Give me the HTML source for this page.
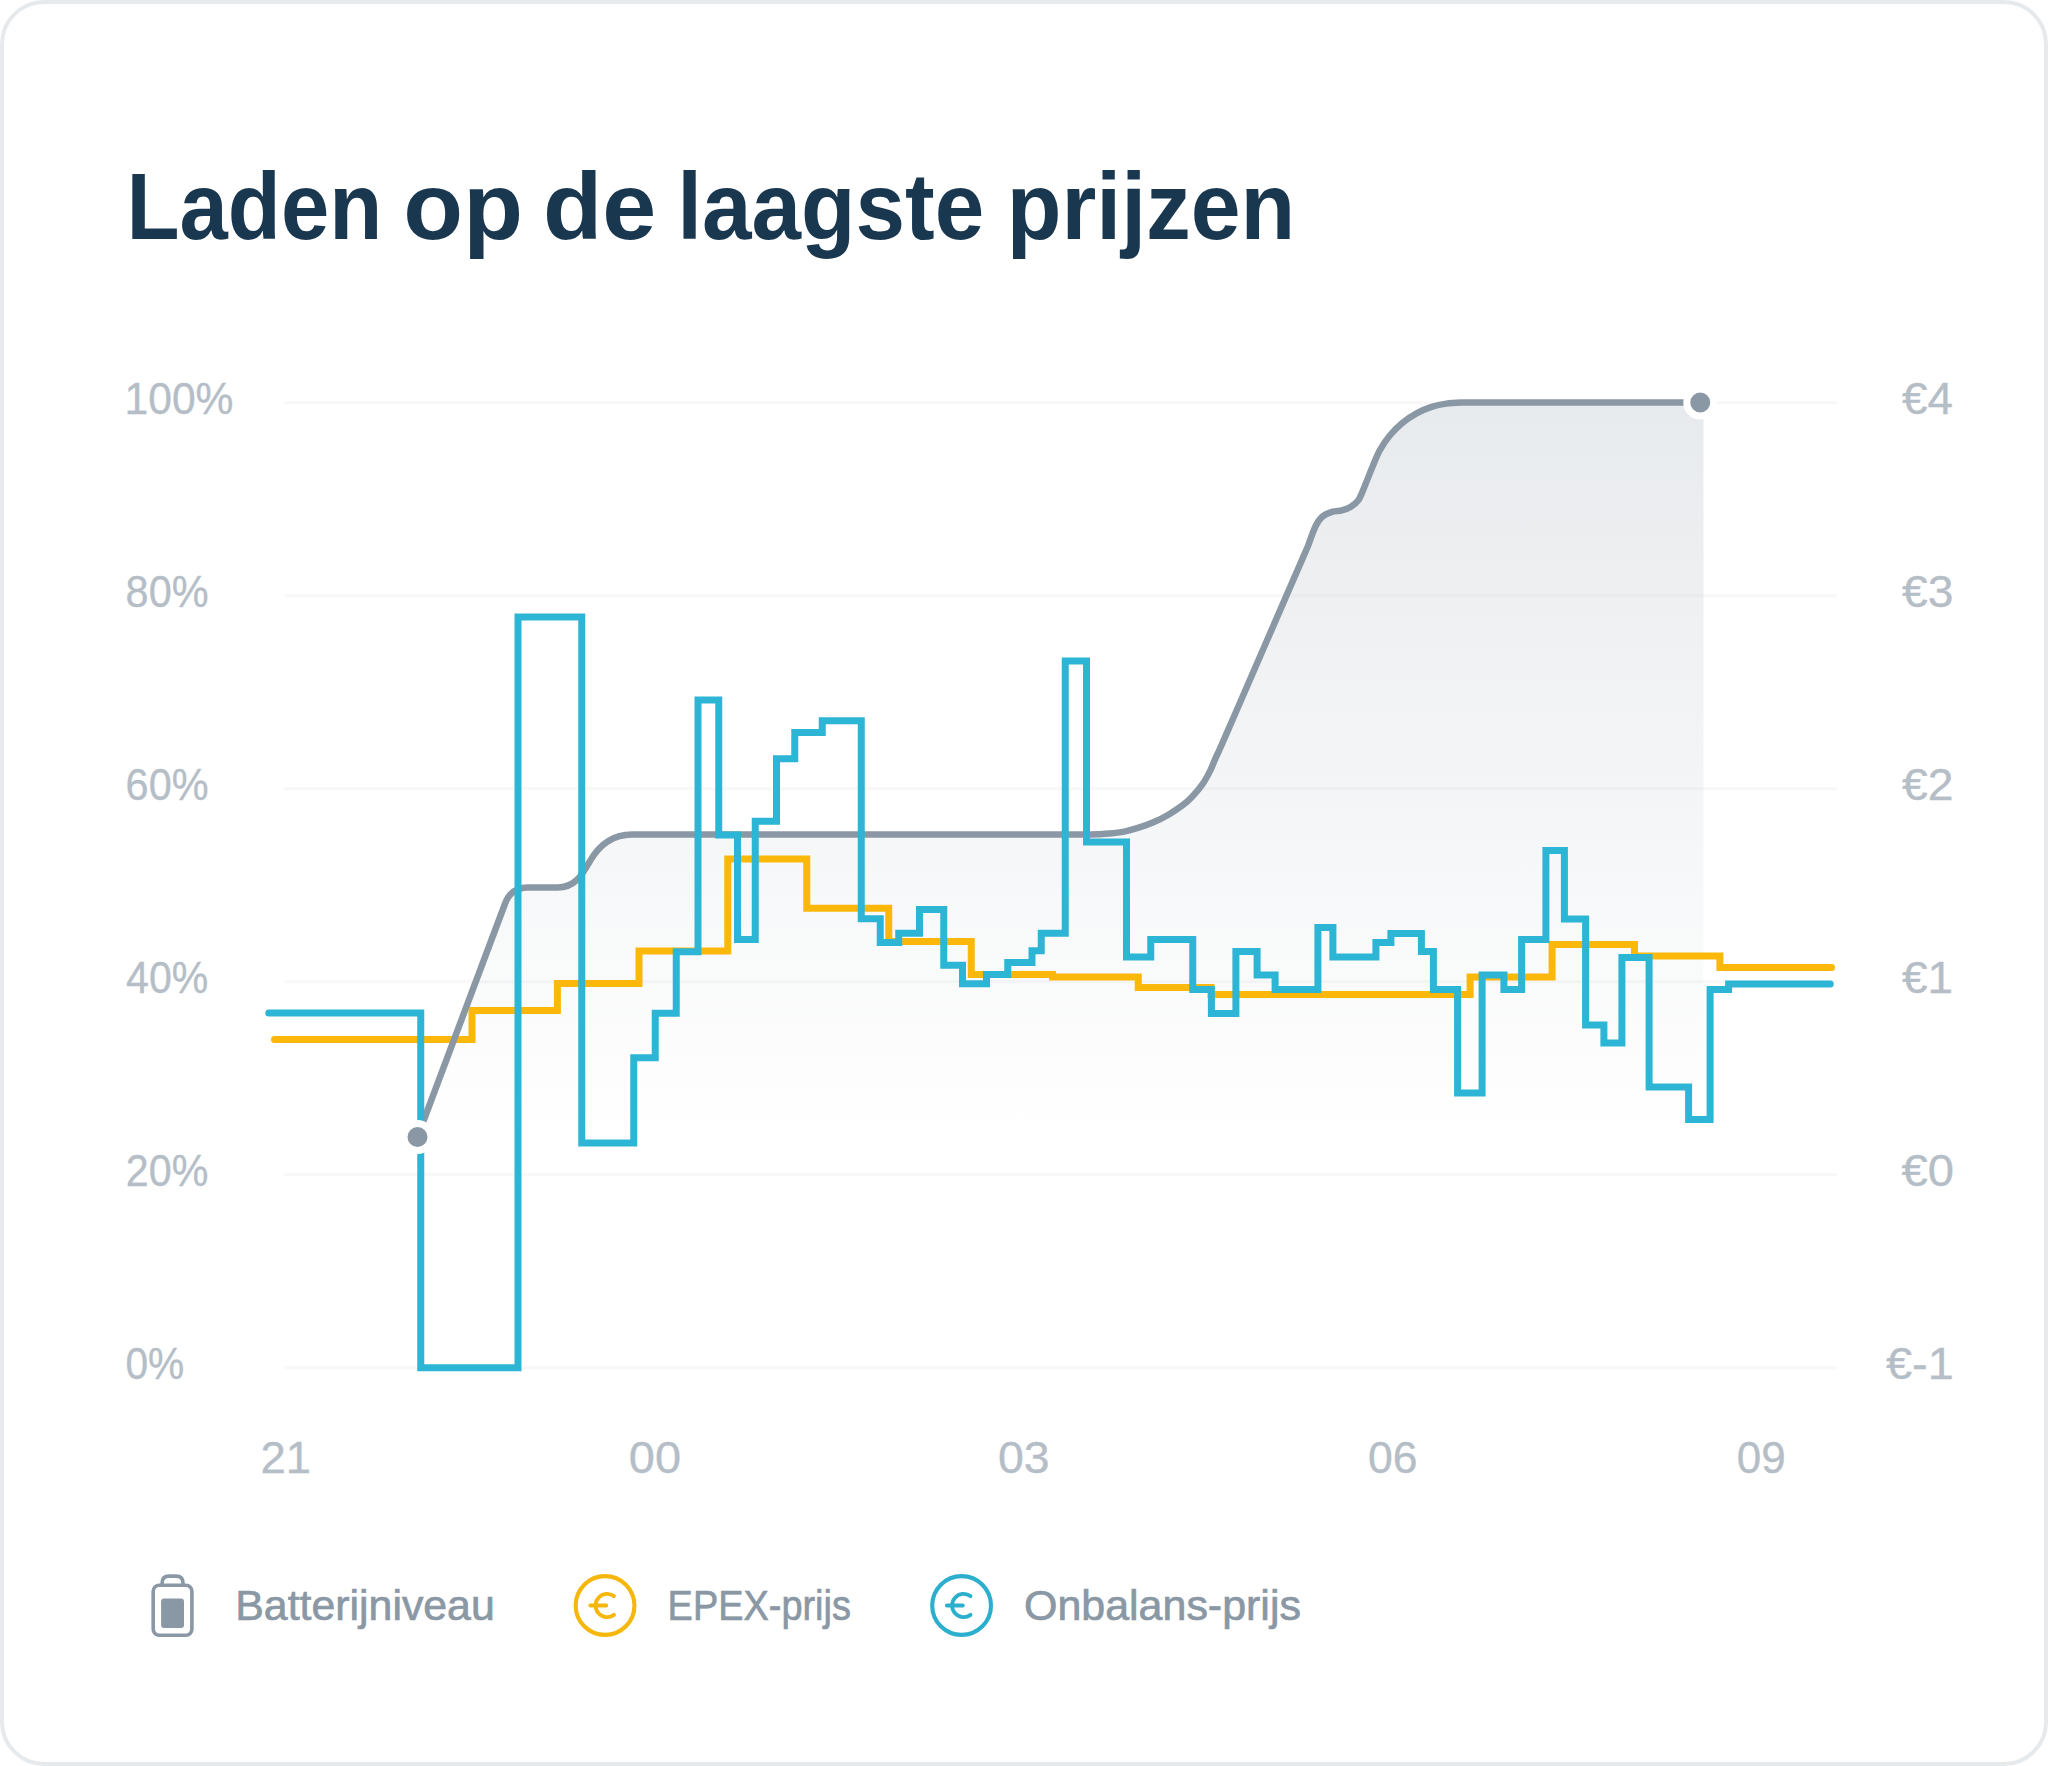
<!DOCTYPE html>
<html lang="nl">
<head>
<meta charset="utf-8">
<title>Laden op de laagste prijzen</title>
<style>
html,body{margin:0;padding:0;background:#fff;}
body{width:2048px;height:1766px;position:relative;overflow:hidden;font-family:"Liberation Sans",sans-serif;}
.card{position:absolute;left:0;top:0;width:2048px;height:1766px;box-sizing:border-box;border:4px solid #e6eaed;border-radius:44px;background:#fff;}
svg text{font-family:"Liberation Sans",sans-serif;}
</style>
</head>
<body>
<div class="card"></div>
<svg width="2048" height="1766" viewBox="0 0 2048 1766" style="position:absolute;left:0;top:0">
<defs><linearGradient id="g" gradientUnits="userSpaceOnUse" x1="0" y1="403" x2="0" y2="1137"><stop offset="0" stop-color="#8a98a5" stop-opacity="0.20"/><stop offset="1" stop-color="#8a98a5" stop-opacity="0"/></linearGradient></defs>
<rect x="284.5" y="401.1" width="1552.3" height="3.2" fill="#f8f8f9"/>
<rect x="284.5" y="594.1" width="1552.3" height="3.2" fill="#f8f8f9"/>
<rect x="284.5" y="787.1" width="1552.3" height="3.2" fill="#f8f8f9"/>
<rect x="284.5" y="980.1" width="1552.3" height="3.2" fill="#f8f8f9"/>
<rect x="284.5" y="1173.1" width="1552.3" height="3.2" fill="#f8f8f9"/>
<rect x="284.5" y="1366.1" width="1552.3" height="3.2" fill="#f8f8f9"/>
<path d="M 417.5,1137 L 505,903.75 C 509,893 516,887.5 527.5,887.5 H 557.5 C 575,887.5 582,875 590,861 C 598,847 610,834.4 632,834.4 H 1085 C 1087.17,834.37 1093.93,834.33 1098.00,834.20 C 1102.07,834.07 1105.05,834.03 1109.40,833.60 C 1113.75,833.17 1119.22,832.58 1124.10,831.60 C 1128.98,830.62 1133.82,829.25 1138.70,827.70 C 1143.58,826.15 1148.52,824.42 1153.40,822.30 C 1158.28,820.18 1163.12,817.85 1168.00,815.00 C 1172.88,812.15 1178.63,808.30 1182.70,805.20 C 1186.77,802.10 1189.15,799.82 1192.40,796.40 C 1195.65,792.98 1199.27,788.92 1202.20,784.70 C 1205.13,780.48 1207.72,775.65 1210.00,771.10 C 1212.28,766.55 1213.95,761.80 1215.90,757.40 C 1217.85,753.00 1219.10,750.57 1221.70,744.70 C 1224.30,738.83 1229.87,725.95 1231.50,722.20 L 1308,546 C 1309.23,542.75 1313.03,531.38 1315.40,526.50 C 1317.77,521.62 1319.43,519.15 1322.20,516.70 C 1324.97,514.25 1328.73,512.85 1332.00,511.80 C 1335.27,510.75 1338.72,511.20 1341.80,510.40 C 1344.88,509.60 1347.73,508.72 1350.50,507.00 C 1353.27,505.28 1356.12,503.37 1358.40,500.10 C 1360.68,496.83 1361.93,492.77 1364.20,487.40 C 1366.47,482.03 1369.40,474.08 1372.00,467.90 C 1374.60,461.72 1376.87,455.67 1379.80,450.30 C 1382.73,444.93 1385.85,440.25 1389.60,435.70 C 1393.35,431.15 1397.73,426.75 1402.30,423.00 C 1406.87,419.25 1412.12,415.88 1417.00,413.20 C 1421.88,410.52 1426.72,408.50 1431.60,406.90 C 1436.48,405.30 1441.23,404.33 1446.30,403.60 C 1451.37,402.87 1457.22,402.68 1462.00,402.50 C 1466.78,402.32 1472.83,402.50 1475.00,402.50 H 1700 H 1703.5 V 1368 H 417.5 Z" fill="url(#g)"/>
<path d="M 274.5,1039.5 H 472 V 1010.4 H 557.4 V 983.4 H 639 V 951 H 727.75 V 859 H 806.75 V 908.25 H 888.75 V 941.5 H 971.25 V 974.5 H 1052.5 V 977 H 1138.25 V 987.5 H 1211 V 994.6 H 1470.1 V 977.1 H 1552.1 V 944.6 H 1634.5 V 956 H 1719.9 V 967.6 H 1831.5" fill="none" stroke="#fbb80a" stroke-width="7" stroke-linecap="round" stroke-linejoin="miter"/>
<path d="M 417.5,1137 L 505,903.75 C 509,893 516,887.5 527.5,887.5 H 557.5 C 575,887.5 582,875 590,861 C 598,847 610,834.4 632,834.4 H 1085 C 1087.17,834.37 1093.93,834.33 1098.00,834.20 C 1102.07,834.07 1105.05,834.03 1109.40,833.60 C 1113.75,833.17 1119.22,832.58 1124.10,831.60 C 1128.98,830.62 1133.82,829.25 1138.70,827.70 C 1143.58,826.15 1148.52,824.42 1153.40,822.30 C 1158.28,820.18 1163.12,817.85 1168.00,815.00 C 1172.88,812.15 1178.63,808.30 1182.70,805.20 C 1186.77,802.10 1189.15,799.82 1192.40,796.40 C 1195.65,792.98 1199.27,788.92 1202.20,784.70 C 1205.13,780.48 1207.72,775.65 1210.00,771.10 C 1212.28,766.55 1213.95,761.80 1215.90,757.40 C 1217.85,753.00 1219.10,750.57 1221.70,744.70 C 1224.30,738.83 1229.87,725.95 1231.50,722.20 L 1308,546 C 1309.23,542.75 1313.03,531.38 1315.40,526.50 C 1317.77,521.62 1319.43,519.15 1322.20,516.70 C 1324.97,514.25 1328.73,512.85 1332.00,511.80 C 1335.27,510.75 1338.72,511.20 1341.80,510.40 C 1344.88,509.60 1347.73,508.72 1350.50,507.00 C 1353.27,505.28 1356.12,503.37 1358.40,500.10 C 1360.68,496.83 1361.93,492.77 1364.20,487.40 C 1366.47,482.03 1369.40,474.08 1372.00,467.90 C 1374.60,461.72 1376.87,455.67 1379.80,450.30 C 1382.73,444.93 1385.85,440.25 1389.60,435.70 C 1393.35,431.15 1397.73,426.75 1402.30,423.00 C 1406.87,419.25 1412.12,415.88 1417.00,413.20 C 1421.88,410.52 1426.72,408.50 1431.60,406.90 C 1436.48,405.30 1441.23,404.33 1446.30,403.60 C 1451.37,402.87 1457.22,402.68 1462.00,402.50 C 1466.78,402.32 1472.83,402.50 1475.00,402.50 H 1700" fill="none" stroke="#8a98a5" stroke-width="6.5" stroke-linecap="round" stroke-linejoin="round"/>
<path d="M 268.75,1013 H 420.75 V 1367.75 H 518 V 617 H 581.75 V 1143 H 633.75 V 1057.75 H 655.25 V 1013.25 H 676.25 V 951.75 H 698 V 700 H 718.75 V 835 H 737.5 V 939.5 H 755.25 V 821.25 H 776.5 V 758.75 H 794.75 V 732.5 H 822.25 V 720.75 H 861.25 V 918.75 H 880.25 V 942.5 H 898.75 V 933.25 H 919.5 V 909.5 H 943.75 V 965.25 H 962.5 V 983.75 H 986.5 V 974.5 H 1007.75 V 962.5 H 1032 V 950.75 H 1041.25 V 933.25 H 1065.25 V 661 H 1086.5 V 842 H 1126.5 V 957 H 1150.75 V 939.5 H 1192.75 V 989.5 H 1211.4 V 1013.4 H 1235.9 V 951.4 H 1257.1 V 975.1 H 1275.1 V 989.6 H 1317.9 V 927.6 H 1332.9 V 957.1 H 1375.9 V 942.6 H 1390.9 V 933.4 H 1421.4 V 951.4 H 1433.4 V 989.6 H 1457.6 V 1092.9 H 1482.1 V 975.1 H 1503.9 V 989.6 H 1521.6 V 939.6 H 1545.9 V 850.4 H 1564.4 V 918.9 H 1585.6 V 1024.9 H 1603.9 V 1042.9 H 1621.9 V 957.6 H 1649.1 V 1087.1 H 1688.6 V 1119.6 H 1710.1 V 989.6 H 1728.6 V 983.9 H 1830.25" fill="none" stroke="#2cb5d4" stroke-width="7" stroke-linecap="round" stroke-linejoin="miter"/>
<circle cx="417.5" cy="1137" r="13.5" fill="#8a98a5" stroke="#fff" stroke-width="7"/>
<circle cx="1700.25" cy="402.5" r="13.5" fill="#8a98a5" stroke="#fff" stroke-width="7"/>
<text transform="translate(124.60,414) scale(0.9676,1)" font-size="44" font-weight="normal" fill="#b5bec7" stroke="#b5bec7" stroke-width="0.35">100%</text>
<text transform="translate(125.62,607) scale(0.9412,1)" font-size="44" font-weight="normal" fill="#b5bec7" stroke="#b5bec7" stroke-width="0.35">80%</text>
<text transform="translate(125.62,800) scale(0.9412,1)" font-size="44" font-weight="normal" fill="#b5bec7" stroke="#b5bec7" stroke-width="0.35">60%</text>
<text transform="translate(126.07,993) scale(0.9337,1)" font-size="44" font-weight="normal" fill="#b5bec7" stroke="#b5bec7" stroke-width="0.35">40%</text>
<text transform="translate(125.83,1186) scale(0.9365,1)" font-size="44" font-weight="normal" fill="#b5bec7" stroke="#b5bec7" stroke-width="0.35">20%</text>
<text transform="translate(125.45,1379) scale(0.9250,1)" font-size="44" font-weight="normal" fill="#b5bec7" stroke="#b5bec7" stroke-width="0.35">0%</text>
<text transform="translate(1901.96,414) scale(1.0426,1)" font-size="44" font-weight="normal" fill="#b5bec7" stroke="#b5bec7" stroke-width="0.35">€4</text>
<text transform="translate(1901.95,607) scale(1.0500,1)" font-size="44" font-weight="normal" fill="#b5bec7" stroke="#b5bec7" stroke-width="0.35">€3</text>
<text transform="translate(1901.95,800) scale(1.0500,1)" font-size="44" font-weight="normal" fill="#b5bec7" stroke="#b5bec7" stroke-width="0.35">€2</text>
<text transform="translate(1901.96,993) scale(1.0435,1)" font-size="44" font-weight="normal" fill="#b5bec7" stroke="#b5bec7" stroke-width="0.35">€1</text>
<text transform="translate(1901.43,1186) scale(1.0717,1)" font-size="44" font-weight="normal" fill="#b5bec7" stroke="#b5bec7" stroke-width="0.35">€0</text>
<text transform="translate(1886.03,1379) scale(1.0650,1)" font-size="44" font-weight="normal" fill="#b5bec7" stroke="#b5bec7" stroke-width="0.35">€-1</text>
<text transform="translate(260.43,1472.75) scale(1.0333,1)" font-size="44" font-weight="normal" fill="#b5bec7" stroke="#b5bec7" stroke-width="0.35">21</text>
<text transform="translate(628.87,1472.75) scale(1.0667,1)" font-size="44" font-weight="normal" fill="#b5bec7" stroke="#b5bec7" stroke-width="0.35">00</text>
<text transform="translate(997.89,1472.75) scale(1.0556,1)" font-size="44" font-weight="normal" fill="#b5bec7" stroke="#b5bec7" stroke-width="0.35">03</text>
<text transform="translate(1367.98,1472.75) scale(1.0111,1)" font-size="44" font-weight="normal" fill="#b5bec7" stroke="#b5bec7" stroke-width="0.35">06</text>
<text transform="translate(1736.75,1472.75) scale(1.0000,1)" font-size="44" font-weight="normal" fill="#b5bec7" stroke="#b5bec7" stroke-width="0.35">09</text>
<g fill="none" stroke="#8a98a5" stroke-width="3.6" stroke-linejoin="round" stroke-linecap="round"><rect x="153.2" y="1585.2" width="38.7" height="50" rx="6" ry="6"/><path stroke-linecap="butt" d="M162.1,1585.2 V1583 Q162.1,1576.1 169,1576.1 H176.1 Q183,1576.1 183,1583 V1585.2"/></g><rect x="161.1" y="1598.5" width="22.9" height="29.5" rx="3" fill="#8a98a5"/>
<g fill="none" stroke="#f6b70c" stroke-width="4.1" stroke-linecap="round"><circle cx="605.05" cy="1605.5" r="29.4"/><path stroke-width="3.8" d="M613.97,1596.12 A11.6,11.6 0 1 0 613.97,1614.88"/><path stroke-width="3.8" d="M590.3499999999999,1605.5 H606.25"/></g>
<g fill="none" stroke="#2bafcd" stroke-width="4.1" stroke-linecap="round"><circle cx="961.6" cy="1605.5" r="29.4"/><path stroke-width="3.8" d="M970.52,1596.12 A11.6,11.6 0 1 0 970.52,1614.88"/><path stroke-width="3.8" d="M946.9,1605.5 H962.8000000000001"/></g>
<text transform="translate(235.28,1620) scale(1.0079,1)" font-size="42.5" font-weight="normal" fill="#8a98a5" stroke="#8a98a5" stroke-width="0.7">Batterijniveau</text>
<text transform="translate(667.62,1620) scale(0.8925,1)" font-size="42.5" font-weight="normal" fill="#8a98a5" stroke="#8a98a5" stroke-width="0.7">EPEX-prijs</text>
<text transform="translate(1023.98,1620) scale(1.0111,1)" font-size="42.5" font-weight="normal" fill="#8a98a5" stroke="#8a98a5" stroke-width="0.7">Onbalans-prijs</text>
<text y="238.9" font-size="95" font-weight="bold" fill="#1a3750"><tspan x="126.51" textLength="255.76" lengthAdjust="spacingAndGlyphs">Laden</tspan> <tspan x="403.38" textLength="119.56" lengthAdjust="spacingAndGlyphs">op</tspan> <tspan x="542.91" textLength="113.27" lengthAdjust="spacingAndGlyphs">de</tspan> <tspan x="677.19" textLength="307.01" lengthAdjust="spacingAndGlyphs">laagste</tspan> <tspan x="1006.85" textLength="288.45" lengthAdjust="spacingAndGlyphs">prijzen</tspan></text>
</svg>
</body>
</html>
